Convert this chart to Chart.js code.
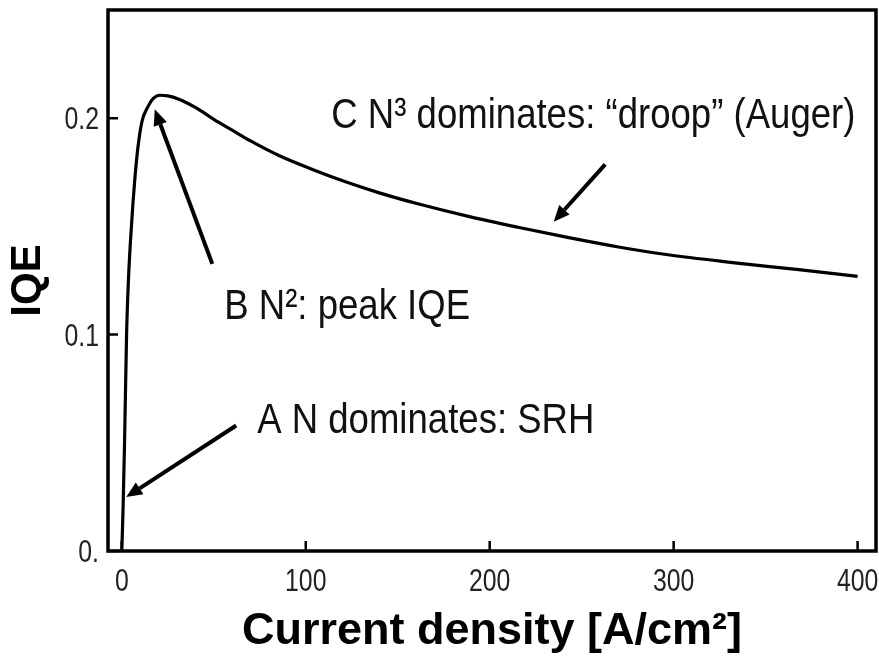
<!DOCTYPE html>
<html>
<head>
<meta charset="utf-8">
<script src="https://cdn.jsdelivr.net/npm/chart.js@4"></script>
<style>
  body { margin: 0; background: #fff; }
  #wrap { width: 879px; height: 663px; }
</style>
</head>
<body>
<div id="wrap"><canvas id="iqeChart" width="879" height="663"></canvas></div>
<script>
// IQE vs current density
const currentDensity = [0, 0.7, 1.5, 2.6, 3.6, 4.7, 6, 7, 8.7, 11, 14, 17, 20.6, 25, 31, 40, 50, 60, 70, 86, 104, 122, 140, 162, 189, 216, 243, 270, 296, 332, 368, 400];
const iqeValues = [0, 0.02, 0.05, 0.1, 0.125, 0.143, 0.16, 0.171, 0.186, 0.1986, 0.205, 0.209, 0.2106, 0.2103, 0.2088, 0.205, 0.1995, 0.1945, 0.1895, 0.1825, 0.1762, 0.1705, 0.1655, 0.1602, 0.1545, 0.1495, 0.1448, 0.1405, 0.137, 0.1333, 0.13, 0.1269];

const xTicks = [0, 100, 200, 300, 400];
const xTickLabels = ['0', '100', '200', '300', '400'];
const yTicks = [0, 0.1, 0.2];
const yTickLabels = ['0.', '0.1', '0.2'];

// annotations, in data units
const notes = [
    { text: 'C N\u00B3 dominates: \u201Cdroop\u201D (Auger)', at: [113.9, 0.1954] },
    { text: 'B N\u00B2: peak IQE', at: [55.7, 0.1074] },
    { text: 'A N dominates: SRH', at: [73.6, 0.0544] }
];
const arrows = [
    { from: [62.2, 0.058], to: [2.4, 0.0249] },
    { from: [49.2, 0.1327], to: [17.9, 0.2041] },
    { from: [262.8, 0.1787], to: [234.8, 0.1522] }
];

const FONT = '"Liberation Sans", Arial, sans-serif';

function drawArrow(ctx, x1, y1, x2, y2) {
    const ang = Math.atan2(y2 - y1, x2 - x1);
    const headLen = 16, headW = 7;
    const bx = x2 - headLen * Math.cos(ang);
    const by = y2 - headLen * Math.sin(ang);
    ctx.lineWidth = 4;
    ctx.beginPath();
    ctx.moveTo(x1, y1);
    ctx.lineTo(bx, by);
    ctx.stroke();
    ctx.beginPath();
    ctx.moveTo(x2, y2);
    ctx.lineTo(bx + headW * Math.sin(ang), by - headW * Math.cos(ang));
    ctx.lineTo(bx - headW * Math.sin(ang), by + headW * Math.cos(ang));
    ctx.closePath();
    ctx.fill();
}

// text squeezed sideways like the narrow face in the picture
function narrowText(ctx, text, x, y, align, squeeze) {
    ctx.save();
    ctx.translate(x, y);
    ctx.scale(squeeze, 1);
    ctx.textAlign = align;
    ctx.fillText(text, 0, 0);
    ctx.restore();
}

const decorations = {
    id: 'decorations',
    afterDatasetsDraw(chart) {
        const ctx = chart.ctx;
        const area = chart.chartArea;
        const xs = chart.scales.x, ys = chart.scales.y;
        ctx.save();
        ctx.strokeStyle = '#000';
        ctx.fillStyle = '#000';

        // inward ticks
        ctx.lineWidth = 2.5;
        ctx.beginPath();
        xTicks.forEach(v => {
            const px = xs.getPixelForValue(v);
            ctx.moveTo(px, area.bottom);
            ctx.lineTo(px, area.bottom - 10);
        });
        yTicks.forEach(v => {
            const py = ys.getPixelForValue(v);
            ctx.moveTo(area.left, py);
            ctx.lineTo(area.left + 10, py);
        });
        ctx.stroke();

        // frame
        ctx.lineWidth = 3.5;
        ctx.strokeRect(area.left, area.top, area.right - area.left, area.bottom - area.top);

        // tick labels
        ctx.font = '31px ' + FONT;
        ctx.fillStyle = '#222';
        ctx.textBaseline = 'alphabetic';
        xTicks.forEach((v, i) => {
            narrowText(ctx, xTickLabels[i], xs.getPixelForValue(v), area.bottom + 40, 'center', 0.8);
        });
        yTicks.forEach((v, i) => {
            narrowText(ctx, yTickLabels[i], area.left - 9, ys.getPixelForValue(v) + 11, 'right', 0.8);
        });

        // arrows
        ctx.fillStyle = '#000';
        arrows.forEach(a => {
            drawArrow(ctx,
                xs.getPixelForValue(a.from[0]), ys.getPixelForValue(a.from[1]),
                xs.getPixelForValue(a.to[0]), ys.getPixelForValue(a.to[1]));
        });

        // notes
        ctx.font = '43px ' + FONT;
        ctx.fillStyle = '#111';
        notes.forEach(n => {
            narrowText(ctx, n.text, xs.getPixelForValue(n.at[0]), ys.getPixelForValue(n.at[1]), 'left', 0.85);
        });
        ctx.restore();
    }
};

const ctx = document.getElementById('iqeChart').getContext('2d');

const iqeChart = new Chart(ctx, {
    type: 'line',
    data: {
        datasets: [{
            data: currentDensity.map((x, i) => ({ x: x, y: iqeValues[i] })),
            borderColor: '#000',
            borderWidth: 3.2,
            pointRadius: 0,
            fill: false,
            cubicInterpolationMode: 'monotone'
        }]
    },
    options: {
        responsive: false,
        animation: false,
        layout: { padding: { top: 10, right: 3, left: 0, bottom: 0 } },
        plugins: {
            legend: { display: false },
            tooltip: { enabled: false }
        },
        scales: {
            x: {
                type: 'linear',
                min: -7.5,
                max: 410,
                afterFit: scale => {
                    scale.height = 112;
                    scale.paddingLeft = 0;
                    scale.paddingRight = 0;
                },
                grid: { display: false, drawTicks: false },
                border: { display: false },
                ticks: { display: false },
                title: {
                    display: true,
                    text: 'Current density [A/cm\u00B2]',
                    color: '#000',
                    padding: { top: 0, bottom: 4 },
                    font: { family: FONT, size: 45, weight: 'bold', lineHeight: 1.2 }
                }
            },
            y: {
                min: 0,
                max: 0.25,
                afterFit: scale => {
                    scale.width = 108;
                    scale.paddingTop = 0;
                    scale.paddingBottom = 0;
                },
                grid: { display: false, drawTicks: false },
                border: { display: false },
                ticks: { display: false },
                title: {
                    display: true,
                    text: 'IQE',
                    color: '#000',
                    padding: { top: 3, bottom: 0 },
                    font: { family: FONT, size: 42, weight: 'bold', lineHeight: 1.2 }
                }
            }
        }
    },
    plugins: [decorations]
});
</script>
</body>
</html>
